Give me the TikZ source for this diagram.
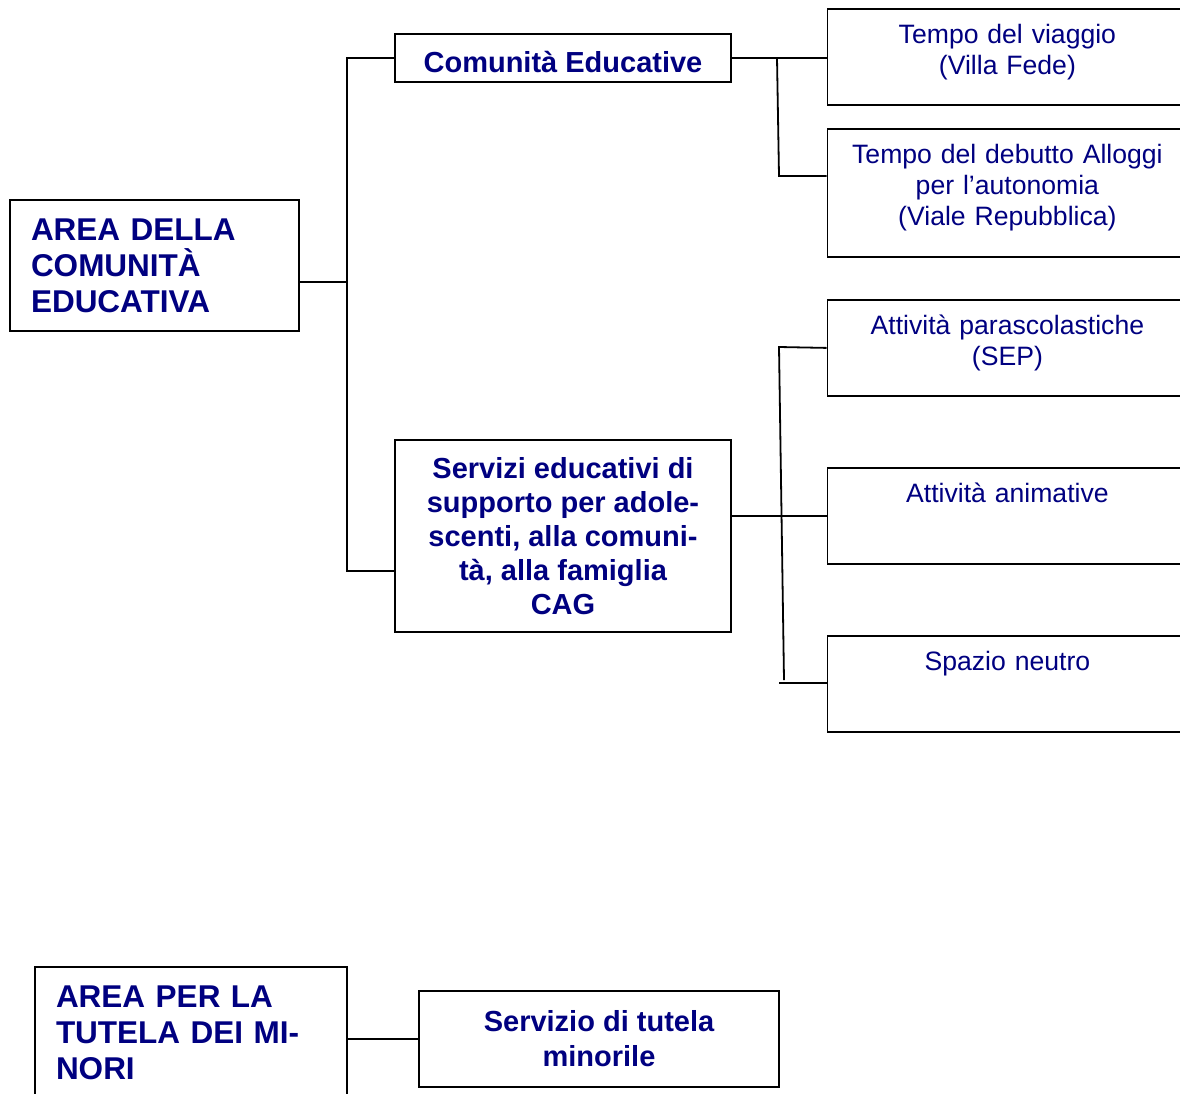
\documentclass[tikz,border=0pt]{standalone}
\usepackage{fontspec}
\setmainfont{Liberation Sans}
\definecolor{navytext}{RGB}{0,0,128}
\tikzset{>=latex}

\begin{document}
\begin{tikzpicture}[x=1pt, y=-1pt, line width=1.8pt,
  box/.style={draw, text=navytext, font=\bfseries\fontsize{29}{34}\selectfont, align=center},
  area/.style={draw, text=navytext, font=\bfseries\fontsize{31.5}{36}\selectfont, align=left, inner xsep=21pt},
  leaf/.style={draw, text=navytext, font=\fontsize{26.6}{31}\selectfont, align=center, anchor=north west,
    minimum width=360, text width=340, inner ysep=3pt, text height=32pt, text depth=#1}]
\clip (0,0) rectangle (1180,1093);

\node[area, minimum width=289, minimum height=131, text width=247] (area1) at (154.5,265.5) {AREA DELLA\\COMUNITÀ\\EDUCATIVA};
\node[box, minimum width=336, minimum height=48, text height=28pt, text depth=0pt] (comed) at (563,58) {Comunità Educative};
\node[box, minimum width=336, minimum height=192] (servizi) at (563,536)
  {Servizi educativi di\\supporto per adole-\\scenti, alla comuni-\\tà, alla famiglia\\CAG};

\node[leaf=58pt] (viaggio) at (826.5,8) {Tempo del viaggio\\(Villa Fede)};
\node[leaf=90pt] (debutto) at (826.5,128) {Tempo del debutto Alloggi\\per l’autonomia\\(Viale Repubblica)};
\node[leaf=58pt] (parasc) at (826.5,299) {Attività parascolastiche\\(SEP)};
\node[leaf=58pt] (animative) at (826.5,467) {Attività animative};
\node[leaf=58pt] (neutro) at (826.5,635) {Spazio neutro};

\node[area, minimum width=312, minimum height=132, text width=270] (area2) at (191,1033) {AREA PER LA\\TUTELA DEI MI-\\NORI};
\node[box, minimum width=360, minimum height=96, font=\bfseries\fontsize{29}{35}\selectfont] (tutela) at (599,1039) {Servizio di tutela\\minorile};

\coordinate (j1) at (347,282);
\coordinate (j1b) at (347,571);
\draw (area1.east |- j1) -- (j1);
\draw (comed.west) -| (j1b) -- (j1b -| servizi.west);

\coordinate (j2) at (777,58);
\coordinate (j3) at (779,176);
\draw (comed.east) -- (comed.east -| viaggio.west);
\draw (j2) -- (j3) -- (j3 -| debutto.west);

\coordinate (j4) at (779,347);
\coordinate (j5) at (784,680);
\coordinate (j6) at (779,683);
\draw (servizi.east |- animative.west) -- (animative.west);
\draw (parasc.west) -- (j4) -- (j5);
\draw (j6) -- (j6 -| neutro.west);

\draw (area2.east |- tutela.west) -- (tutela.west);
\end{tikzpicture}
\end{document}
